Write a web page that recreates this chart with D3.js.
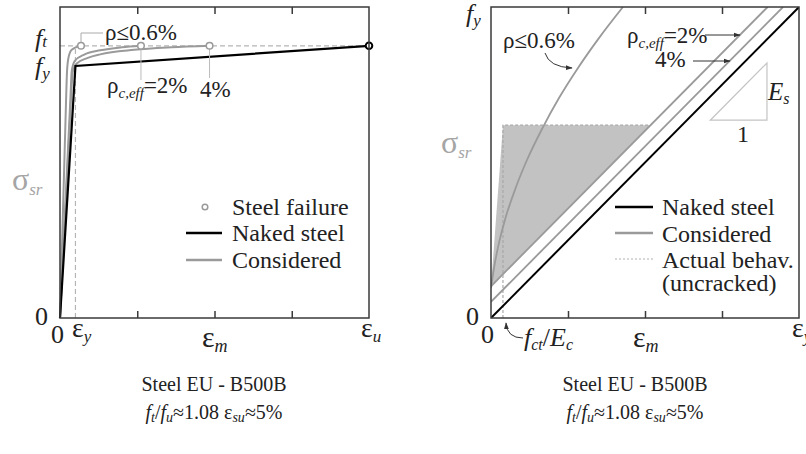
<!DOCTYPE html>
<html><head><meta charset="utf-8">
<script src="https://cdn.jsdelivr.net/npm/d3@7"></script>
</head>
<body style="margin:0">
<svg id="c" width="806" height="454"></svg>
<script>
// ---------- data (strain in %, stress in MPa) ----------
const leftStrainDomain = [0, 5];
const leftStressDomain = [0, 617];
const nakedLeft = [[0,0],[0.25,500],[5,540]];
const rho06Left = [[0,0],[0.10,440],[0.113,488],[0.135,515],[0.19,532],[0.34,540]];
const rho2Left  = [[0,0],[0.17,440],[0.19,490],[0.24,510],[0.4,523],[0.65,531],[1.0,537],[1.31,540]];
const rho4Left  = [[0,0],[0.18,440],[0.205,488],[0.27,505],[0.45,516],[0.65,523],[1.2,532],[1.8,537],[2.42,540]];
const failurePts = [[0.34,540],[1.31,540],[2.42,540]];
const ftLevel = 540, eyLeft = 0.25;
const leftTicks = [1.25, 2.5, 3.75];

const rightStrainDomain = [0, 0.25];
const rightStressDomain = [0, 500];
const nakedRight = [[0,0],[0.25,500]];
const rho2Right  = [[0,51],[0.2245,500]];
const rho4Right  = [[0,26],[0.237,500]];
const rho06Right = [[0,48],[0.0024,80],[0.0057,114],[0.0118,161],[0.0200,209],[0.0292,254],[0.0417,305],[0.0553,354],[0.0706,402],[0.0876,450],[0.1071,500]];
const shadedArea = [[0,51],[0.0097,310],[0.1295,310]];
const actualBehav = [[0.0097,0],[0.0097,310],[0.1295,310]];
const slopeTri = [[0.178,318],[0.224,318],[0.224,410]];
const rightTicks = [0.0625, 0.125, 0.1875];

const svg = d3.select("#c");
const GRAY = "#9a9a9a", FRAME = "#3a3a3a", TXT = "#222";
const FONT = "'Liberation Serif'";

svg.append("defs").append("marker").attr("id","arr").attr("viewBox","0 0 10 10")
  .attr("refX",9).attr("refY",5).attr("markerWidth",7).attr("markerHeight",7)
  .attr("orient","auto").append("path").attr("d","M0,1.5L10,5L0,8.5Z").attr("fill","#333");

function txt(g, x, y, parts, size, anchor, fill){
  const t = g.append("text").attr("x",x).attr("y",y)
    .attr("text-anchor",anchor||"start").attr("fill",fill||TXT)
    .style("font-family",FONT).style("font-size",size+"px");
  if(parts.length===1 && !parts[0].i){ t.text(parts[0].t); return t; }
  let shift = 0;
  parts.forEach(p=>{
    const s = t.append("tspan").text(p.t).style("font-family",FONT);
    if(p.i) s.style("font-style","italic");
    const dy = (p.dy||0) - shift;
    if(dy) s.attr("dy",dy);
    shift = p.dy||0;
    if(p.s) s.style("font-size",p.s+"px");
  });
  return t;
}

// ================= LEFT PANEL =================
const xL = d3.scaleLinear(leftStrainDomain,[60,369]);
const yL = d3.scaleLinear(leftStressDomain,[318,7]);
const gL = svg.append("g");
const lineL = d3.line().x(d=>xL(d[0])).y(d=>yL(d[1])).curve(d3.curveMonotoneX);
const lineLs = d3.line().x(d=>xL(d[0])).y(d=>yL(d[1]));

gL.append("line").attr("x1",xL(0)).attr("x2",xL(5)).attr("y1",yL(ftLevel)).attr("y2",yL(ftLevel))
  .attr("stroke","#b5b5b5").attr("stroke-width",1.2).attr("stroke-dasharray","5,3");
gL.append("line").attr("x1",xL(eyLeft)).attr("x2",xL(eyLeft)).attr("y1",yL(0)).attr("y2",yL(ftLevel))
  .attr("stroke","#b5b5b5").attr("stroke-width",1.2).attr("stroke-dasharray","5,3");

[rho06Left, rho2Left, rho4Left].forEach(d=>{
  gL.append("path").attr("d",lineL(d)).attr("fill","none").attr("stroke",GRAY).attr("stroke-width",2);
});
gL.append("path").attr("d",lineLs(nakedLeft)).attr("fill","none").attr("stroke","#000").attr("stroke-width",2.2);

const lp = d3.path();
lp.moveTo(xL(failurePts[0][0]), yL(540)); lp.lineTo(xL(failurePts[0][0]), 33); lp.lineTo(103,33);
gL.append("path").attr("d",lp.toString()).attr("fill","none").attr("stroke","#aaa").attr("stroke-width",1);
gL.append("line").attr("x1",xL(failurePts[1][0])).attr("x2",xL(failurePts[1][0])).attr("y1",yL(540)).attr("y2",80)
  .attr("stroke","#bbb").attr("stroke-width",1);
gL.append("line").attr("x1",xL(failurePts[2][0])).attr("x2",xL(failurePts[2][0])).attr("y1",yL(540)).attr("y2",78)
  .attr("stroke","#bbb").attr("stroke-width",1);

failurePts.forEach(p=>{
  gL.append("circle").attr("cx",xL(p[0])).attr("cy",yL(p[1])).attr("r",3.3)
    .attr("fill","#fff").attr("stroke",GRAY).attr("stroke-width",1.5);
});
gL.append("circle").attr("cx",xL(5)).attr("cy",yL(540)).attr("r",3.3)
  .attr("fill","#fff").attr("stroke","#000").attr("stroke-width",2);

gL.append("rect").attr("x",60).attr("y",7).attr("width",309).attr("height",311)
  .attr("fill","none").attr("stroke",FRAME).attr("stroke-width",1.5);
const axBL = gL.append("g").attr("transform","translate(0,318)")
  .call(d3.axisBottom(xL).tickValues(leftTicks).tickSize(-7).tickFormat(""));
const axTL = gL.append("g").attr("transform","translate(0,7)")
  .call(d3.axisTop(xL).tickValues(leftTicks).tickSize(-7).tickFormat(""));
[axBL,axTL].forEach(a=>{a.select(".domain").remove(); a.selectAll("line").attr("stroke",FRAME).attr("stroke-width",1.5);});

txt(gL,105,40,[{t:"ρ≤0.6%"}],23);
txt(gL,107,93,[{t:"ρ"},{t:"c,eff",i:1,s:15,dy:5},{t:"=2%"}],23);
txt(gL,200,97,[{t:"4%"}],23);
txt(gL,35,47,[{t:"f",i:1},{t:"t",i:1,s:17,dy:0}],26);
txt(gL,35,75,[{t:"f",i:1},{t:"y",i:1,s:17,dy:4}],26);
txt(gL,12,190,[{t:"σ"},{t:"sr",i:1,s:17,dy:5}],32,"start","#a5a5a5");
txt(gL,35,325,[{t:"0"}],26);
txt(gL,51,343,[{t:"0"}],26);
txt(gL,72,337,[{t:"ε"},{t:"y",i:1,s:17,dy:5}],28);
txt(gL,202,347,[{t:"ε"},{t:"m",i:1,s:18,dy:5}],30);
txt(gL,361,337,[{t:"ε"},{t:"u",i:1,s:17,dy:5}],28);

gL.append("circle").attr("cx",205).attr("cy",207).attr("r",2.8).attr("fill","#fff").attr("stroke",GRAY).attr("stroke-width",1.5);
txt(gL,232,215,[{t:"Steel failure"}],24);
gL.append("line").attr("x1",186).attr("x2",222).attr("y1",233).attr("y2",233).attr("stroke","#000").attr("stroke-width",2.5);
txt(gL,232,241,[{t:"Naked steel"}],24);
gL.append("line").attr("x1",186).attr("x2",222).attr("y1",260).attr("y2",260).attr("stroke",GRAY).attr("stroke-width",2.5);
txt(gL,232,268,[{t:"Considered"}],24);

txt(gL,214,391,[{t:"Steel EU - B500B"}],20,"middle");
txt(gL,214,419,[{t:"f",i:1},{t:"t",i:1,s:14,dy:3},{t:"/",dy:0},{t:"f",i:1},{t:"u",i:1,s:14,dy:3},{t:"≈1.08 ε",dy:0},{t:"su",i:1,s:14,dy:3},{t:"≈5%",dy:0}],20,"middle");

// ================= RIGHT PANEL =================
const xR = d3.scaleLinear(rightStrainDomain,[491,799]);
const yR = d3.scaleLinear(rightStressDomain,[318,7]);
const gR = svg.append("g");
svg.select("defs").append("clipPath").attr("id","clipR").append("rect")
  .attr("x",491).attr("y",7).attr("width",308).attr("height",311);
const lineR = d3.line().x(d=>xR(d[0])).y(d=>yR(d[1]));
const lineRc = d3.line().x(d=>xR(d[0])).y(d=>yR(d[1])).curve(d3.curveMonotoneX);
const inner = gR.append("g").attr("clip-path","url(#clipR)");

inner.append("path").attr("d",lineR(shadedArea)+"Z").attr("fill","#c2c2c2");
inner.append("path").attr("d",lineR(actualBehav)).attr("fill","none").attr("stroke","#a8a8a8")
  .attr("stroke-width",1.2).attr("stroke-dasharray","3,2");
inner.append("path").attr("d",lineRc(rho06Right)).attr("fill","none").attr("stroke",GRAY).attr("stroke-width",1.8);
[rho2Right, rho4Right].forEach(d=>{
  inner.append("path").attr("d",lineR(d)).attr("fill","none").attr("stroke",GRAY).attr("stroke-width",1.8);
});
inner.append("path").attr("d",lineR(nakedRight)).attr("fill","none").attr("stroke","#000").attr("stroke-width",2);
inner.append("path").attr("d",lineR(slopeTri)+"Z").attr("fill","#fff").attr("stroke","#c4c4c4").attr("stroke-width",1.2);

gR.append("rect").attr("x",491).attr("y",7).attr("width",308).attr("height",311)
  .attr("fill","none").attr("stroke",FRAME).attr("stroke-width",1.5);
const axBR = gR.append("g").attr("transform","translate(0,318)")
  .call(d3.axisBottom(xR).tickValues(rightTicks).tickSize(-7).tickFormat(""));
const axTR = gR.append("g").attr("transform","translate(0,7)")
  .call(d3.axisTop(xR).tickValues(rightTicks).tickSize(-7).tickFormat(""));
[axBR,axTR].forEach(a=>{a.select(".domain").remove(); a.selectAll("line").attr("stroke",FRAME).attr("stroke-width",1.5);});

txt(gR,503,48,[{t:"ρ≤0.6%"}],23);
gR.append("path").attr("d","M545,53 Q549,67 572,68").attr("fill","none").attr("stroke","#333").attr("stroke-width",1).attr("marker-end","url(#arr)");
txt(gR,627,43,[{t:"ρ"},{t:"c,eff",i:1,s:15,dy:5},{t:"=2%"}],23);
gR.append("line").attr("x1",705).attr("x2",740).attr("y1",35).attr("y2",35).attr("stroke","#333").attr("marker-end","url(#arr)");
txt(gR,655,67,[{t:"4%"}],23);
gR.append("line").attr("x1",693).attr("x2",730).attr("y1",61).attr("y2",61).attr("stroke","#333").attr("marker-end","url(#arr)");
txt(gR,768,100,[{t:"E",i:1},{t:"s",i:1,s:16,dy:4}],25);
txt(gR,737,142,[{t:"1"}],24);
txt(gR,466,22,[{t:"f",i:1},{t:"y",i:1,s:17,dy:4}],26);
txt(gR,441,153,[{t:"σ"},{t:"sr",i:1,s:17,dy:5}],32,"start","#a5a5a5");
txt(gR,466,325,[{t:"0"}],26);
txt(gR,481,343,[{t:"0"}],26);
txt(gR,524,346,[{t:"f",i:1},{t:"ct",i:1,s:16,dy:4},{t:"/",dy:0},{t:"E",i:1},{t:"c",i:1,s:16,dy:4}],26);
gR.append("path").attr("d","M523,338 Q507,338 506,323").attr("fill","none").attr("stroke","#333").attr("stroke-width",1).attr("marker-end","url(#arr)");
txt(gR,633,347,[{t:"ε"},{t:"m",i:1,s:18,dy:5}],30);
txt(gR,792,337,[{t:"ε"},{t:"y",i:1,s:17,dy:5}],28);

gR.append("line").attr("x1",615).attr("x2",653).attr("y1",207).attr("y2",207).attr("stroke","#000").attr("stroke-width",2.5);
txt(gR,662,215,[{t:"Naked steel"}],24);
gR.append("line").attr("x1",615).attr("x2",653).attr("y1",233).attr("y2",233).attr("stroke",GRAY).attr("stroke-width",2.5);
txt(gR,662,242,[{t:"Considered"}],24);
gR.append("line").attr("x1",615).attr("x2",653).attr("y1",259).attr("y2",259).attr("stroke","#b0b0b0").attr("stroke-width",1).attr("stroke-dasharray","2,2");
txt(gR,662,268,[{t:"Actual behav."}],24);
txt(gR,662,291,[{t:"(uncracked)"}],24);

txt(gR,635,391,[{t:"Steel EU - B500B"}],20,"middle");
txt(gR,635,419,[{t:"f",i:1},{t:"t",i:1,s:14,dy:3},{t:"/",dy:0},{t:"f",i:1},{t:"u",i:1,s:14,dy:3},{t:"≈1.08 ε",dy:0},{t:"su",i:1,s:14,dy:3},{t:"≈5%",dy:0}],20,"middle");
</script></body></html>
